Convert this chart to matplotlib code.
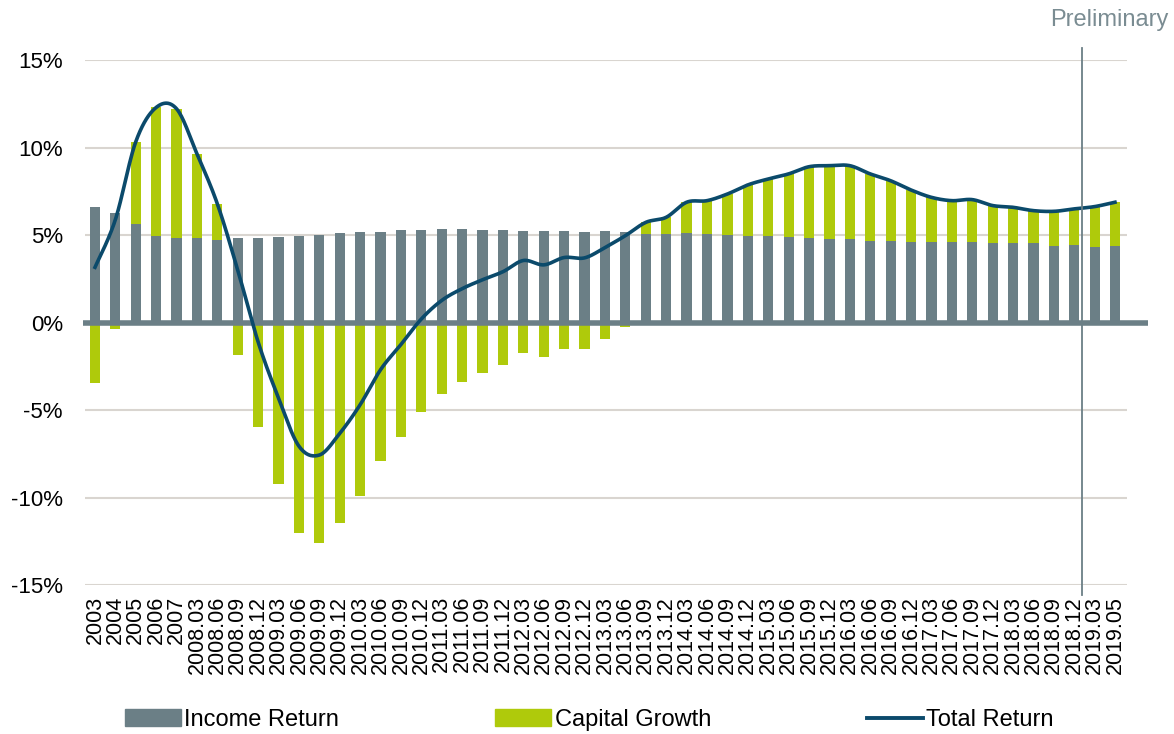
import numpy as np
import matplotlib.pyplot as plt
from matplotlib.patches import Patch
from matplotlib.lines import Line2D

plt.rcParams['font.family'] = ['Liberation Sans', 'DejaVu Sans']

periods = ['2003', '2004', '2005', '2006', '2007',
           '2008.03', '2008.06', '2008.09', '2008.12',
           '2009.03', '2009.06', '2009.09', '2009.12',
           '2010.03', '2010.06', '2010.09', '2010.12',
           '2011.03', '2011.06', '2011.09', '2011.12',
           '2012.03', '2012.06', '2012.09', '2012.12',
           '2013.03', '2013.06', '2013.09', '2013.12',
           '2014.03', '2014.06', '2014.09', '2014.12',
           '2015.03', '2015.06', '2015.09', '2015.12',
           '2016.03', '2016.06', '2016.09', '2016.12',
           '2017.03', '2017.06', '2017.09', '2017.12',
           '2018.03', '2018.06', '2018.09', '2018.12',
           '2019.03', '2019.05']

income_return = [6.63, 6.25, 5.64, 4.97, 4.82, 4.82, 4.74, 4.82, 4.82, 4.88,
                 4.93, 5.03, 5.12, 5.20, 5.20, 5.30, 5.30, 5.35, 5.35, 5.31,
                 5.31, 5.26, 5.24, 5.22, 5.20, 5.22, 5.20, 5.07, 5.07, 5.10,
                 5.07, 5.01, 4.97, 4.93, 4.91, 4.84, 4.78, 4.76, 4.69, 4.65,
                 4.63, 4.63, 4.59, 4.59, 4.53, 4.55, 4.53, 4.40, 4.46, 4.34,
                 4.36]

capital_growth = [-3.47, -0.36, 4.70, 7.33, 7.40, 4.82, 2.04, -1.83, -5.94, -9.20,
                  -12.00, -12.60, -11.45, -9.89, -7.89, -6.55, -5.09, -4.08, -3.41, -2.86,
                  -2.40, -1.71, -1.94, -1.50, -1.50, -0.93, -0.23, 0.66, 0.95, 1.78,
                  1.90, 2.34, 2.90, 3.28, 3.59, 4.07, 4.19, 4.21, 3.81, 3.46,
                  2.95, 2.53, 2.38, 2.44, 2.16, 2.04, 1.87, 1.96, 2.04, 2.29,
                  2.52]

total_return = [3.16, 5.89, 10.34, 12.30, 12.22, 9.64, 6.78, 2.99, -1.12, -4.32,
                -7.07, -7.57, -6.33, -4.69, -2.69, -1.25, 0.21, 1.27, 1.94, 2.45,
                2.91, 3.55, 3.30, 3.72, 3.70, 4.29, 4.97, 5.73, 6.02, 6.88,
                6.97, 7.35, 7.87, 8.21, 8.50, 8.91, 8.97, 8.97, 8.50, 8.11,
                7.58, 7.16, 6.97, 7.03, 6.69, 6.59, 6.40, 6.36, 6.50, 6.63,
                6.88]

GREY = '#6b7f86'
GREEN = '#afca0b'
NAVY = '#0b4a6b'
GRID = '#d9d5d0'


def smooth(x, y, n=30):
    # Excel-style smoothed line (Bezier with 1/6 tangents)
    x = np.asarray(x, float)
    y = np.asarray(y, float)
    pts = np.column_stack([x, y])
    ext = np.vstack([pts[0], pts, pts[-1]])
    out = []
    t = np.linspace(0, 1, n)[:, None]
    for i in range(len(pts) - 1):
        p0, p1, p2, p3 = ext[i], ext[i + 1], ext[i + 2], ext[i + 3]
        c1 = p1 + (p2 - p0) / 6
        c2 = p2 - (p3 - p1) / 6
        seg = ((1 - t) ** 3) * p1 + 3 * ((1 - t) ** 2) * t * c1 + 3 * (1 - t) * t ** 2 * c2 + t ** 3 * p2
        out.append(seg if i == 0 else seg[1:])
    out = np.vstack(out)
    return out[:, 0], out[:, 1]


fig = plt.figure(figsize=(11.74, 7.34), dpi=100)
ax = fig.add_axes([0.0724, 0.203, 0.8876, 0.715])

x = np.arange(len(periods))
inc = np.array(income_return)
cap = np.array(capital_growth)
cap_bottom = np.where(cap >= 0, inc, 0)

for yv in [-15, -10, -5, 5, 10, 15]:
    ax.axhline(yv, color=GRID, lw=1.5, zorder=0)

ax.bar(x, inc, width=0.5, color=GREY, zorder=2)
ax.bar(x, cap, width=0.5, bottom=cap_bottom, color=GREEN, zorder=2)

ax.plot([-0.6, 51.6], [0, 0], color=GREY, lw=4, clip_on=False, zorder=3,
        solid_capstyle='butt')

sx, sy = smooth(x, total_return)
ax.plot(sx, sy, color=NAVY, lw=2.6, zorder=4)

ax.plot([48.38, 48.38], [-15.6, 15.7], color=GREY, lw=1.3, clip_on=False, zorder=5)
ax.text(49.7, 17.3, 'Preliminary', color='#7a8c92', fontsize=17, ha='center', va='center')

ax.set_xlim(-0.49, 50.59)
ax.set_ylim(-15, 15)
ax.set_yticks([-15, -10, -5, 0, 5, 10, 15])
ax.set_yticklabels(['-15%', '-10%', '-5%', '0%', '5%', '10%', '15%'], fontsize=16)
ax.set_xticks(x)
ax.set_xticklabels(periods, rotation=90, fontsize=15.5)
ax.tick_params(axis='y', length=0, pad=16)
ax.tick_params(axis='x', length=0, pad=8)
for s in ax.spines.values():
    s.set_visible(False)

handles = [Patch(color=GREY), Patch(color=GREEN), Line2D([], [], color=NAVY, lw=2.8)]
fig.legend(handles, ['Income Return', 'Capital Growth', 'Total Return'],
           loc='center', bbox_to_anchor=(0.502, 1 - 720 / 734), ncol=3,
           frameon=False, fontsize=17, handlelength=2.37, handletextpad=0.15,
           columnspacing=6.6)

fig.savefig('out.png', dpi=100)
